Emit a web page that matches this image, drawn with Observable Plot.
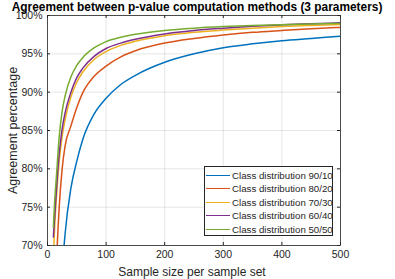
<!DOCTYPE html>
<html><head><meta charset="utf-8">
<script src="https://cdn.jsdelivr.net/npm/d3@7"></script>
<script src="https://cdn.jsdelivr.net/npm/@observablehq/plot@0.6"></script>
<style>
body{margin:0;background:#fff;}
#wrap{position:relative;width:395px;height:279px;font-family:"Liberation Sans",Arial,sans-serif;color:#262626;}
#legend{position:absolute;left:204px;top:166px;width:127px;height:68px;border:1px solid #262626;background:#fff;box-sizing:content-box;}
.row{position:absolute;left:0;height:14px;display:flex;align-items:center;font-size:9.7px;white-space:nowrap;}
.sw{width:24px;height:0;border-top:1.5px solid;margin:0 2px 0 1px;}
</style></head><body>
<div id="wrap"><div id="legend"></div></div>
<script>
const title = "Agreement between p-value computation methods (3 parameters)";
const xLabel = "Sample size per sample set";
const yLabel = "Agreement percentage";
const xTicks = [0, 100, 200, 300, 400, 500];
const yTicks = [70, 75, 80, 85, 90, 95, 100];
const seriesNames = ["Class distribution 90/10", "Class distribution 80/20", "Class distribution 70/30", "Class distribution 60/40", "Class distribution 50/50"];
const colors = ["#0072BD", "#D95319", "#EDB120", "#7E2F8E", "#77AC30"];
const sampleSize = [10, 12, 15, 20, 25, 30, 40, 50, 60, 80, 100, 125, 150, 200, 250, 300, 350, 400, 450, 500];
const dist90_10 = [30, 38, 47, 58, 66.5, 71.5, 77.5, 81, 83.8, 87.2, 89.2, 91, 92.2, 93.9, 95, 95.8, 96.3, 96.7, 97.0, 97.3];
const dist80_20 = [55, 60, 67, 75, 80, 83, 85.6, 88, 89.9, 92.1, 93.4, 94.6, 95.4, 96.4, 97.0, 97.45, 97.8, 98.05, 98.28, 98.45];
const dist70_30 = [68.5, 72, 76, 81, 84.2, 86.4, 89.4, 91.3, 92.6, 94.3, 95.3, 96.1, 96.65, 97.35, 97.8, 98.1, 98.35, 98.55, 98.7, 98.82];
const dist60_40 = [71.1, 73.5, 77, 82, 85.2, 87.3, 90.0, 91.9, 93.1, 94.7, 95.7, 96.4, 96.9, 97.6, 98.05, 98.35, 98.6, 98.78, 98.92, 99.05];
const dist50_50 = [72.4, 75.5, 78.8, 84.2, 87.5, 89.5, 92.0, 93.5, 94.5, 95.8, 96.6, 97.15, 97.55, 98.05, 98.35, 98.55, 98.7, 98.8, 98.9, 98.97];

const allSeries = [dist90_10, dist80_20, dist70_30, dist60_40, dist50_50];
const data = [];
allSeries.forEach((vals, i) => vals.forEach((v, j) => data.push({series: seriesNames[i], n: sampleSize[j], v})));

const W = 395, H = 279, mT = 15, mR = 55, mB = 34, mL = 47;
const innerH = H - mT - mB, innerW = W - mL - mR;
const ink = "#262626";

const chart = Plot.plot({
  width: W, height: H,
  marginTop: mT, marginRight: mR, marginBottom: mB, marginLeft: mL,
  style: {fontFamily: "'Liberation Sans', Arial, sans-serif", fontSize: "10.5px", color: ink, background: "transparent", overflow: "visible"},
  x: {domain: [0, 500], ticks: xTicks},
  y: {domain: [70, 100], ticks: yTicks},
  color: {domain: seriesNames, range: colors},
  marks: [
    Plot.gridX(xTicks, {stroke: "#000", strokeOpacity: 0.1}),
    Plot.gridY(yTicks, {stroke: "#000", strokeOpacity: 0.1}),
    Plot.line(data, {x: "n", y: "v", z: "series", stroke: "series", curve: "monotone-x", strokeWidth: 1.5, clip: true}),
    Plot.frame({stroke: ink, strokeWidth: 0.8}),
    Plot.tickX(xTicks, {x: d => d, stroke: ink, insetTop: innerH - 3}),
    Plot.tickX(xTicks, {x: d => d, stroke: ink, insetBottom: innerH - 3}),
    Plot.tickY(yTicks, {y: d => d, stroke: ink, insetRight: innerW - 3}),
    Plot.tickY(yTicks, {y: d => d, stroke: ink, insetLeft: innerW - 3}),
    Plot.axisX({ticks: xTicks, tickSize: 0, tickPadding: 5, label: null}),
    Plot.axisY({ticks: yTicks, tickSize: 0, tickPadding: 5, tickFormat: d => d + "%", label: null}),
    Plot.text([xLabel], {frameAnchor: "bottom", textAnchor: "middle", lineAnchor: "middle", dy: 27, dx: -2, fontSize: 12, fill: ink}),
    Plot.text([yLabel], {frameAnchor: "left", textAnchor: "middle", lineAnchor: "middle", rotate: -90, dx: -35, fontSize: 12.5, fill: ink}),
    Plot.text([title], {frameAnchor: "top", textAnchor: "middle", lineAnchor: "middle", dy: -8.5, dx: 3, fontWeight: "bold", fontSize: 11.9, fill: "#000"})
  ]
});
const wrap = document.getElementById("wrap");
wrap.insertBefore(chart, wrap.firstChild);
chart.style.position = "absolute"; chart.style.left = "0"; chart.style.top = "0";

const legend = document.getElementById("legend");
seriesNames.forEach((name, i) => {
  const row = document.createElement("div");
  row.className = "row";
  row.style.top = (1 + i * 13.6) + "px";
  const sw = document.createElement("span");
  sw.className = "sw"; sw.style.borderColor = colors[i];
  const t = document.createElement("span");
  t.textContent = name;
  row.appendChild(sw); row.appendChild(t);
  legend.appendChild(row);
});
</script>
</body></html>
